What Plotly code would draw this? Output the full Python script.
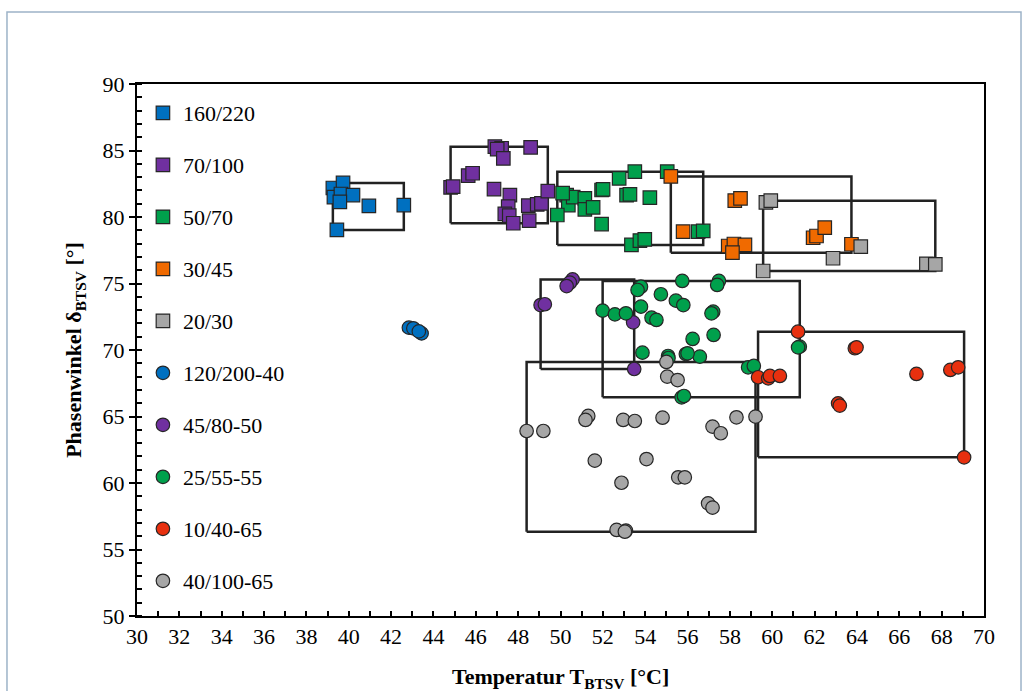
import plotly.graph_objects as go

# Phase angle vs. temperature at the ring-and-ball equivalent (BTSV)
labels = ["160/220", "70/100", "50/70", "30/45", "20/30",
          "120/200-40", "45/80-50", "25/55-55", "10/40-65", "40/100-65"]
symbols = ["square"] * 5 + ["circle"] * 5
colors = ["#0070C0", "#7030A0", "#00A04C", "#F06A00", "#A6A6A6",
          "#0070C0", "#7030A0", "#00A04C", "#E8300F", "#A6A6A6"]

t_160_220 = [39.25, 39.73, 39.3, 39.63, 40.2, 39.58, 40.95, 42.6, 39.44]
d_160_220 = [82.18, 82.56, 81.5, 81.73, 81.65, 81.13, 80.83, 80.9, 79.03]

t_70_100 = [46.90, 47.22, 47.01, 47.30, 48.59, 44.81, 44.93, 45.64, 45.85, 46.86,
            47.61, 47.53, 47.37, 47.58, 47.77, 48.48, 48.90, 49.10, 48.52, 49.40]
d_70_100 = [85.29, 85.17, 85.11, 84.41, 85.24, 82.23, 82.28, 83.11, 83.29, 82.10,
            81.65, 80.78, 80.23, 80.10, 79.53, 80.85, 80.95, 81.03, 79.73, 81.95]

t_50_70 = [52.77, 53.51, 55.04, 50.29, 50.37, 50.60, 51.15, 51.15, 51.54, 51.94,
           52.01, 51.94, 49.85, 53.12, 53.28, 54.22, 53.35, 53.75, 53.98, 56.50,
           56.74, 50.10]
d_50_70 = [82.91, 83.41, 83.41, 81.65, 80.90, 81.50, 81.40, 80.58, 80.73, 82.03,
           82.08, 79.47, 80.15, 81.65, 81.70, 81.45, 77.90, 78.23, 78.32, 78.90,
           78.95, 81.80]

t_30_45 = [55.21, 58.23, 58.50, 55.79, 57.92, 58.19, 58.71, 58.12, 61.93, 62.09,
           62.48, 63.74]
d_30_45 = [83.05, 81.23, 81.40, 78.90, 77.82, 77.97, 77.90, 77.32, 78.44, 78.57,
           79.20, 77.95]

t_20_30 = [59.70, 59.93, 64.18, 62.87, 59.57, 67.28, 67.70]
d_20_30 = [81.10, 81.23, 77.77, 76.90, 75.94, 76.48, 76.44]

t_120_200_40 = [42.84, 43.05, 43.44, 43.31]
d_120_200_40 = [71.68, 71.63, 71.25, 71.40]

t_45_80_50 = [50.57, 50.44, 50.29, 49.06, 49.26, 53.43, 53.48]
d_45_80_50 = [75.31, 75.06, 74.81, 73.38, 73.44, 72.08, 68.57]

t_25_55_55 = [55.75, 57.48, 57.40, 53.80, 53.64, 54.74, 55.45, 55.80, 53.80, 51.99,
              52.57, 53.09, 54.30, 54.53, 57.21, 57.13, 56.24, 57.23, 53.87, 55.08,
              55.92, 56.58, 58.86, 59.13, 61.30, 61.22, 55.72, 55.83, 55.10, 56.00]
d_25_55_55 = [75.19, 75.19, 74.89, 74.76, 74.51, 74.19, 73.71, 73.38, 73.26, 72.96,
              72.68, 72.76, 72.43, 72.26, 72.88, 72.76, 70.83, 71.13, 69.80, 69.55,
              69.70, 69.50, 68.70, 68.80, 70.25, 70.20, 66.44, 66.54, 69.40, 69.75]

t_10_40_65 = [61.22, 63.90, 63.98, 59.33, 59.81, 59.89, 60.36, 63.11, 63.19, 66.81,
              68.41, 68.78, 69.06]
d_10_40_65 = [71.38, 70.13, 70.20, 67.95, 67.87, 68.05, 68.05, 65.99, 65.82, 68.20,
              68.50, 68.70, 61.93]

t_40_100_65 = [55.00, 55.04, 55.53, 48.40, 49.19, 51.31, 51.18, 52.96, 53.51, 54.82,
               58.31, 59.21, 57.18, 57.57, 51.62, 54.06, 52.88, 55.56, 55.87, 56.97,
               57.18, 52.65, 53.09, 53.04]
d_40_100_65 = [69.10, 68.00, 67.74, 63.91, 63.91, 65.04, 64.74, 64.74, 64.66, 64.91,
               64.94, 64.99, 64.24, 63.74, 61.68, 61.80, 60.02, 60.43, 60.43, 58.47,
               58.15, 56.47, 56.42, 56.34]

temps = [t_160_220, t_70_100, t_50_70, t_30_45, t_20_30,
         t_120_200_40, t_45_80_50, t_25_55_55, t_10_40_65, t_40_100_65]
phases = [d_160_220, d_70_100, d_50_70, d_30_45, d_20_30,
          d_120_200_40, d_45_80_50, d_25_55_55, d_10_40_65, d_40_100_65]

SERIF = "Liberation Serif"
fig = go.Figure()

# Range boxes (min/max of each series), drawn underneath the markers
for t, d in zip(temps, phases):
    x0, x1, y0, y1 = min(t), max(t), min(d), max(d)
    fig.add_trace(go.Scatter(
        x=[x0, x1, x1, x0, x0], y=[y0, y0, y1, y1, y0],
        mode="lines", line=dict(color="#222222", width=2.5),
        hoverinfo="skip", showlegend=False))

for i, (name, sym, col, t, d) in enumerate(zip(labels, symbols, colors, temps, phases)):
    fig.add_trace(go.Scatter(
        x=t, y=d, mode="markers", name=name, legendgroup=f"g{i}",
        marker=dict(symbol=sym, size=13.5, color=col,
                    line=dict(color="#262626", width=1.2))))

# Outer frame around the whole figure
fig.add_shape(type="rect", xref="paper", yref="paper",
              x0=-0.1535, x1=1.0437, y0=-0.2, y1=1.1353,
              line=dict(color="#9DB3C8", width=1.5), layer="below")

# x-axis title placed below the tick labels
fig.add_annotation(
    text="<b>Temperatur T<sub>BTSV</sub> [°C]</b>",
    xref="paper", yref="paper", x=0.5, y=-0.1165,
    xanchor="center", yanchor="middle", showarrow=False,
    font=dict(family=SERIF, size=22, color="black"))

fig.update_layout(
    width=1024, height=691,
    margin=dict(l=137, r=40, t=84, b=75),
    plot_bgcolor="white", paper_bgcolor="white",
    font=dict(family=SERIF, size=22, color="black"),
    legend=dict(x=0.007, y=0.985, xanchor="left", yanchor="top",
                bgcolor="rgba(0,0,0,0)", borderwidth=0, tracegroupgap=20.4,
                itemwidth=30, font=dict(family=SERIF, size=22, color="black")),
    showlegend=True,
)

fig.update_xaxes(
    range=[30, 70], tickmode="linear", dtick=2, tick0=30,
    ticks="inside", ticklen=5, tickcolor="black", tickwidth=1.5,
    tickfont=dict(family=SERIF, size=22, color="black"),
    minor=dict(dtick=1, ticks="inside", ticklen=5, tickcolor="black", tickwidth=1.5),
    showline=True, linecolor="black", linewidth=2, mirror=True,
    showgrid=False, zeroline=False, automargin=False,
)
fig.update_yaxes(
    range=[50, 90], tickmode="linear", dtick=5, tick0=50,
    ticks="outside", ticklen=6, tickcolor="black", tickwidth=1.5,
    tickfont=dict(family=SERIF, size=22, color="black"),
    minor=dict(dtick=1, ticks="inside", ticklen=5, tickcolor="black", tickwidth=1.5),
    showline=True, linecolor="black", linewidth=2, mirror=True,
    showgrid=False, zeroline=False, automargin=False,
    title=dict(text="<b>Phasenwinkel δ<sub>BTSV</sub> [°]</b>",
               font=dict(family=SERIF, size=22, color="black")),
)

fig.write_html("out.html")
